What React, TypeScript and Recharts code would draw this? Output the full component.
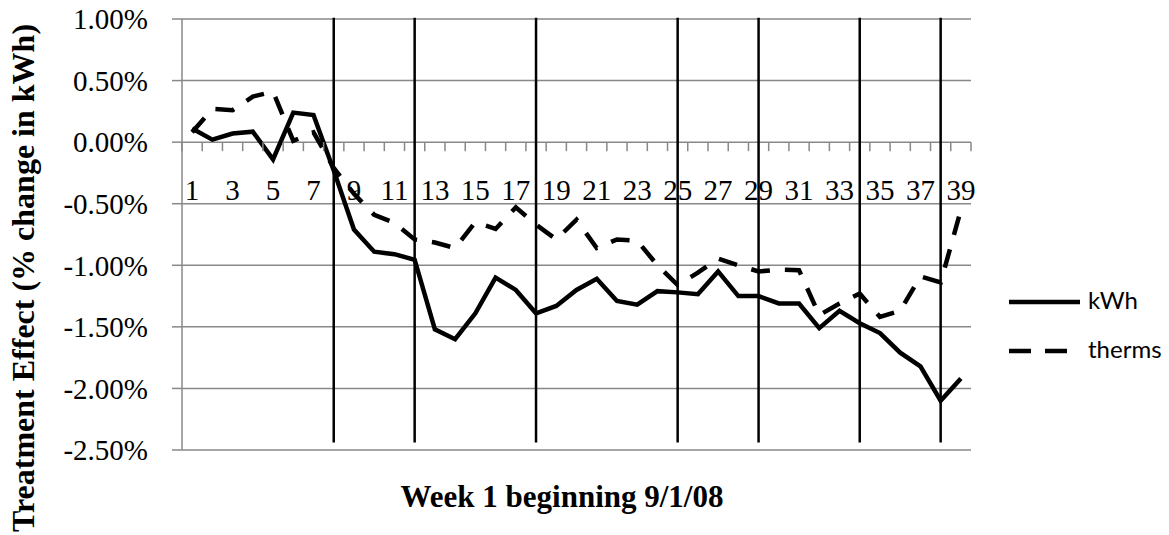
import React from 'react'
import { LineChart, Line, XAxis, YAxis, CartesianGrid, ReferenceLine, Legend } from 'recharts'

// week numbers on the category axis
const WEEKS = [
  1, 2, 3, 4, 5, 6, 7, 8, 9, 10, 11, 12, 13, 14, 15, 16, 17, 18, 19, 20,
  21, 22, 23, 24, 25, 26, 27, 28, 29, 30, 31, 32, 33, 34, 35, 36, 37, 38, 39,
]

// treatment effect, % change
const KWH = [
  0.11, 0.02, 0.07, 0.085, -0.14, 0.24, 0.22, -0.23, -0.71, -0.89,
  -0.91, -0.955, -1.52, -1.6, -1.39, -1.1, -1.2, -1.39, -1.33, -1.2,
  -1.11, -1.29, -1.32, -1.21, -1.22, -1.235, -1.05, -1.25, -1.25, -1.31,
  -1.31, -1.51, -1.37, -1.47, -1.55, -1.71, -1.82, -2.1, -1.92,
]

const THERMS = [
  0.08, 0.27, 0.26, 0.37, 0.41, 0.01, 0.08, -0.21, -0.42, -0.59,
  -0.655, -0.79, -0.815, -0.86, -0.65, -0.705, -0.53, -0.67, -0.79, -0.63,
  -0.86, -0.79, -0.8, -1.0, -1.16, -1.06, -0.945, -1.0, -1.05, -1.035,
  -1.04, -1.405, -1.31, -1.23, -1.42, -1.37, -1.09, -1.14, -0.55,
]

const Y_TICKS = [-2.5, -2, -1.5, -1, -0.5, 0, 0.5, 1]

// hand-drawn vertical markers on the original chart
const MARKER_WEEKS = [8, 12, 18, 25, 29, 34, 38]

const SERIES = [
  { key: 'kwh', name: 'kWh', dash: undefined as string | undefined },
  { key: 'therms', name: 'therms', dash: '19 15' },
]

const data = WEEKS.map((week, i) => ({ week, kwh: KWH[i], therms: THERMS[i] }))

const W = 1169
const H = 535
const MARGIN = { top: 19, right: 198, bottom: 0, left: 0 }
const Y_AXIS_W = 182
const X_AXIS_H = 85
const PLOT_W = W - MARGIN.left - MARGIN.right - Y_AXIS_W
const PLOT_H = H - MARGIN.top - MARGIN.bottom - X_AXIS_H
const Y_MIN = -2.5
const Y_MAX = 1
const ZERO_Y = MARGIN.top + (PLOT_H * (Y_MAX - 0)) / (Y_MAX - Y_MIN)
const BAND = PLOT_W / WEEKS.length

const GRID = '#888888'
const SERIF = "'Times New Roman', 'Liberation Serif', serif"

const WeekTick = (props: any) => {
  const { x, payload, index } = props
  const right = x + BAND / 2
  const left = x - BAND / 2
  return (
    <g>
      {index === 0 && <line x1={left} x2={left} y1={ZERO_Y} y2={ZERO_Y + 9} stroke={GRID} strokeWidth={1.5} />}
      <line x1={right} x2={right} y1={ZERO_Y} y2={ZERO_Y + 9} stroke={GRID} strokeWidth={1.5} />
      {payload.value % 2 === 1 && (
        <text x={x} y={ZERO_Y + 58} textAnchor="middle" fontSize={29} fontFamily={SERIF} fill="#000">
          {payload.value}
        </text>
      )}
    </g>
  )
}

const LegendBox = () => (
  <svg width={169} height={90}>
    {SERIES.map((s, i) => (
      <g key={s.key}>
        <line x1={9} x2={80} y1={22 + i * 49} y2={22 + i * 49} stroke="#000" strokeWidth={4.5} strokeDasharray={s.dash ? '22 14' : undefined} />
        <text x={88} y={29 + i * 49} fontSize={24} fontFamily="Lato, 'Open Sans', sans-serif" fill="#000">
          {s.name}
        </text>
      </g>
    ))}
  </svg>
)

const App = () => {
  return (
    <div style={{ position: 'absolute', left: 0, top: 0, width: W, height: H, background: '#fff' }}>
      <LineChart width={W} height={H} data={data} margin={MARGIN}>
        <CartesianGrid vertical={false} stroke={GRID} strokeWidth={1.5} />
        <XAxis
          dataKey="week"
          interval={0}
          height={X_AXIS_H}
          padding={{ left: BAND / 2, right: BAND / 2 }}
          axisLine={false}
          tickLine={false}
          tick={WeekTick}
        />
        <YAxis
          width={Y_AXIS_W}
          domain={[Y_MIN, Y_MAX]}
          ticks={Y_TICKS}
          interval={0}
          tickFormatter={(v: number) => `${v.toFixed(2)}%`}
          stroke={GRID}
          strokeWidth={1.5}
          tickSize={10}
          tickMargin={24}
          tick={{ fill: '#000', fontSize: 29, fontFamily: SERIF }}
        />
        {SERIES.map((s) => (
          <Line
            key={s.key}
            type="linear"
            dataKey={s.key}
            name={s.name}
            stroke="#000"
            strokeWidth={4.5}
            strokeDasharray={s.dash}
            dot={false}
            activeDot={false}
            isAnimationActive={false}
          />
        ))}
        {MARKER_WEEKS.map((w) => (
          <ReferenceLine
            key={w}
            segment={[{ x: w, y: 1.01 }, { x: w, y: -2.44 }]}
            stroke="#000"
            strokeWidth={2.5}
            ifOverflow="visible"
          />
        ))}
        <Legend
          layout="vertical"
          align="center"
          verticalAlign="middle"
          content={LegendBox}
          wrapperStyle={{ left: 1000, top: 280, width: 169, height: 90 }}
        />
        <text
          x={34}
          y={278}
          transform="rotate(-90 34 278)"
          textAnchor="middle"
          fontSize={32}
          fontWeight="bold"
          fontFamily={SERIF}
          fill="#000"
        >
          Treatment Effect (% change in kWh)
        </text>
        <text x={562} y={507} textAnchor="middle" fontSize={31} fontWeight="bold" fontFamily={SERIF} fill="#000">
          Week 1 beginning 9/1/08
        </text>
      </LineChart>
    </div>
  )
}

export default App
